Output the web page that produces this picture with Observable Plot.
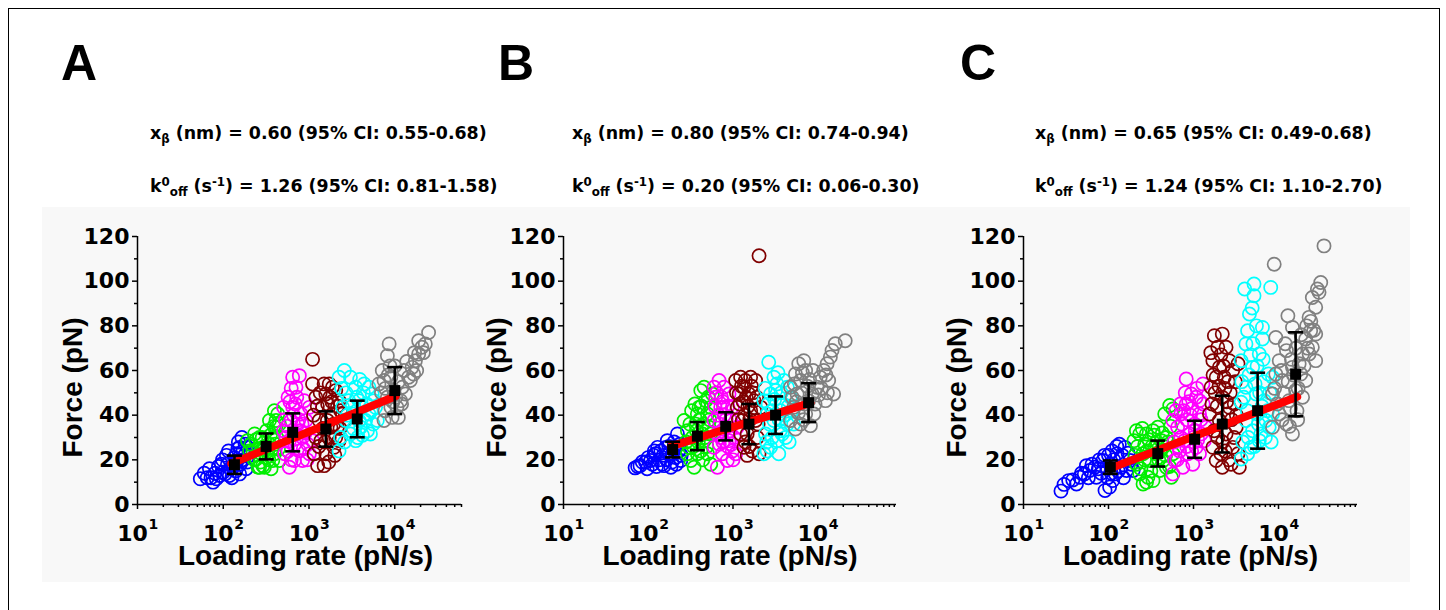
<!DOCTYPE html>
<html><head><meta charset="utf-8">
<script src="https://cdn.jsdelivr.net/npm/d3@7"></script>
<script src="https://cdn.jsdelivr.net/npm/@observablehq/plot@0.6"></script>
<style>
body{margin:0;background:#fff;width:1446px;height:610px;overflow:hidden;position:relative;font-family:"Liberation Sans",Arial,sans-serif;}
#frame{position:absolute;left:8px;top:8px;width:1430px;height:700px;border:1.5px solid #000;border-bottom:none;}
#bg{position:absolute;left:42px;top:207px;width:1368px;height:375px;background:#f8f8f8;}
.letter{position:absolute;font-weight:bold;font-size:50px;line-height:1;top:37.7px;}
.ann{position:absolute;font-family:"DejaVu Sans";font-weight:bold;font-size:17.4px;white-space:nowrap;line-height:1;}
.sub{font-size:.68em;position:relative;top:.32em;}
.sup{font-size:.68em;position:relative;top:-.55em;}
.panel{position:absolute;top:200px;}
</style></head>
<body>
<div id="frame"></div>
<div id="bg"></div>
<div class="letter" style="left:61px">A</div>
<div class="letter" style="left:498px">B</div>
<div class="letter" style="left:960px">C</div>
<div class="ann" style="left:150px;top:125px">x<span class="sub">β</span> (nm) = 0.60 (95% CI: 0.55-0.68)</div>
<div class="ann" style="left:150px;top:178px">k<span class="sup">0</span><span class="sub">off</span> (s<span class="sup">-1</span>) = 1.26 (95% CI: 0.81-1.58)</div>
<div class="ann" style="left:572px;top:125px">x<span class="sub">β</span> (nm) = 0.80 (95% CI: 0.74-0.94)</div>
<div class="ann" style="left:572px;top:178px">k<span class="sup">0</span><span class="sub">off</span> (s<span class="sup">-1</span>) = 0.20 (95% CI: 0.06-0.30)</div>
<div class="ann" style="left:1035px;top:125px">x<span class="sub">β</span> (nm) = 0.65 (95% CI: 0.49-0.68)</div>
<div class="ann" style="left:1035px;top:178px">k<span class="sup">0</span><span class="sub">off</span> (s<span class="sup">-1</span>) = 1.24 (95% CI: 1.10-2.70)</div>
<div id="pA" class="panel" style="left:40px;width:441px"></div>
<div id="pB" class="panel" style="left:481px;width:435px"></div>
<div id="pC" class="panel" style="left:941px;width:446px"></div>
<script>
// ---- shared categories / ticks ----
const groupColors = ["#0000ff", "#00ee00", "#ff00ff", "#800000", "#00ffff", "#808080"];
const yMajor = [0, 20, 40, 60, 80, 100, 120];
const yMinor = [10, 30, 50, 70, 90, 110];
const xDecades = [10, 100, 1000, 10000];
const xExponents = ["1", "2", "3", "4"];
const xMinor = [20,30,40,50,60,70,80,90,200,300,400,500,600,700,800,900,2000,3000,4000,5000,6000,7000,8000,9000,20000,30000,40000,50000,60000,70000,80000];

// ---- Panel A: [loading rate (pN/s), force (pN)] ----
const A_blue = [[54,11.5],[69,16],[76,10],[83,11.5],[95,18],[105,13.7],[109,22],[126,12],[130,16.7],[143,22.7],[155,13.7],[162,19.7],[170,24],[185,16],[192,25.6],[155,25.6],[143,19],[120,16],[72,12],[91,13],[115,24],[100,14.5],[150,28],[178,22],[165,30],
  [60,14],[88,17],[98,20],[112,18],[118,13],[135,21],[140,15],[148,25],[158,18],[172,20],[180,27],[190,19],[200,22],[65,12],[80,14]];
const A_green = [[192,28.6],[222,24],[243,20.4],[254,16.7],[277,22.7],[290,17.4],[316,21],[346,27],[361,16],[378,30],[395,22.7],[413,34.6],[432,40.5],[413,37.6],[378,19.7],[331,24],[265,30],[232,31.6],[452,19.7],[346,37.6],[302,16.7],[395,42],[452,36],[203,24],[265,16.7],
  [210,27],[240,29],[260,25],[285,30],[300,26],[320,33],[340,20],[355,31],[370,25],[390,35],[405,27],[420,30],[440,25],[230,20],[270,19]];
const A_magenta = [[505,43.5],[570,48],[645,57],[705,52.5],[771,57.7],[615,37.6],[540,30],[520,22.7],[590,16.7],[675,19.7],[771,24],[840,30],[921,37.6],[1010,43.5],[880,46.5],[570,24],[705,31.6],[840,19.7],[1010,22.7],[1100,28.6],[505,33],[645,43.5],[740,36],[590,28.6],[965,27],[805,40.5],
  [530,38],[560,35],[600,46],[620,52],[660,40],[690,45],[720,48],[760,38],[790,33],[830,36],[860,25],[900,32],[950,20],[620,20],[680,27]];
const A_darkred = [[1100,65],[1100,54],[1200,48],[1440,43.5],[1570,49.5],[1720,54],[1876,52.5],[2050,51],[2240,46.5],[2340,42],[2580,37.6],[1315,37.6],[1200,30],[1150,22.7],[1260,17.4],[1500,17.4],[1570,22.7],[1720,30],[1960,25.6],[2140,34.6],[1640,37.6],[1876,40.5],[1800,34.6],[2240,28.6],[1380,28.6],[2460,40.5],[1500,54],
  [1130,40],[1250,44],[1350,50],[1450,34],[1550,28],[1650,45],[1750,48],[1850,46],[1950,36],[2050,30],[2150,44],[2300,34],[1300,26],[1700,19],[2000,22]];
const A_cyan = [[2240,57],[2580,60],[3040,57],[3500,52.5],[3830,46.5],[4400,54],[5000,52.5],[5460,49.5],[5970,43.5],[6250,37.6],[5200,31.6],[4570,37.6],[4000,34.6],[3500,28.6],[3040,31.6],[2680,37.6],[2340,30],[2240,24],[2460,43.5],[2900,46.5],[3340,40.5],[4180,43.5],[5000,40.5],[5710,46.5],[3830,37.6],
  [2400,52],[2700,50],[2800,40],[3200,44],[3600,48],[3900,56],[4300,50],[4700,45],[5300,42],[5600,36],[3300,34],[4200,31],[2600,28],[3700,30],[4800,33]];
const A_gray = [[8600,71.9],[8200,66.6],[7150,60],[7500,55.5],[6530,54],[8200,48],[9000,43.5],[7500,37.6],[9310,39],[10600,43.5],[11700,46.5],[12200,52.5],[14500,57],[15900,61.4],[17400,64.4],[19000,67.4],[20700,70.4],[22700,71.9],[24800,77],[16600,58.4],[13300,49.5],[11000,39],[9800,51],[9000,57],[19000,73.3],[15200,55.5],
  [7000,50],[7800,52],[8400,58],[8800,62],[9500,46],[10300,48],[11000,55],[12800,60],[13800,64],[17000,68],[18000,60],[12000,45],[10000,62],[7700,42],[21500,68]];
const A_meanRate = [135, 316, 645, 1570, 3650, 10000];
const A_meanForce = [17.8, 26, 32.3, 33.8, 38.3, 51];
const A_sd = [4.1, 5.8, 8.5, 7.9, 8.2, 10.5];
const A_fit = [[124, 18.3], [10200, 48.5]];

// ---- Panel B ----
const B_blue = [[70,16.4],[80,17.4],[93,19],[107,19.7],[122,22.7],[141,24],[161,25.6],[168,28.6],[194,22.7],[221,31.6],[230,24],[242,19.7],[211,21],[185,16.7],[146,18],[129,25.6],[116,22],[177,22.7],[154,17.4],[97,16],[202,28],
  [85,19],[100,21],[112,18],[118,24],[135,20],[150,22],[165,20],[175,26],[190,19],[205,25],[215,18],[235,27],[245,22],[125,17],[75,17]];
const B_green = [[265,37.6],[290,33],[304,25.6],[318,19.7],[348,16.7],[380,22.7],[398,43.5],[417,51],[456,52.5],[477,46.5],[499,40.5],[546,43.5],[522,34.6],[436,31.6],[363,36],[332,30],[417,24],[499,22.7],[546,18],[380,40.5],[290,22.7],[456,28.6],[546,31.6],[570,49.5],
  [280,28],[310,36],[325,42],[340,26],[355,45],[370,33],[390,28],[405,38],[425,44],[445,36],[470,30],[490,26],[510,48],[530,38],[440,20]];
const B_magenta = [[598,52.5],[685,55.5],[784,52.5],[898,49.5],[625,48],[717,43.5],[598,37.6],[654,31.6],[598,25.6],[654,16.7],[750,22.7],[857,19.7],[982,24],[1030,30],[939,37.6],[820,34.6],[1076,22.7],[898,28.6],[717,30],[1125,34.6],[784,43.5],[982,43.5],
  [610,44],[640,50],[670,40],[700,36],[730,48],[760,46],[790,40],[830,38],[870,44],[920,33],[960,27],[1000,20],[690,27],[760,28],[870,26]];
const B_darkred = [[1076,55.5],[1230,57],[1400,55.5],[1614,57],[1850,55.5],[1180,49.5],[1347,52.5],[1540,49.5],[1770,46.5],[1125,43.5],[1290,37.6],[1470,31.6],[1347,25.6],[1470,22],[1690,24],[1933,30],[1850,37.6],[1614,42],[1230,31.6],[2030,22.7],[2130,43.5],[2030,111.4],
  [1100,50],[1160,38],[1200,45],[1260,53],[1320,46],[1380,40],[1430,48],[1500,44],[1580,38],[1650,53],[1720,50],[1800,42],[1900,48],[1980,36],[1400,28],[1550,26]];
const B_cyan = [[2640,63.7],[3040,57],[3390,59],[3980,55.5],[4380,52.5],[4770,48],[2316,46.5],[2530,40.5],[2420,31.6],[2316,22.7],[2774,25.6],[3323,28.6],[3800,31.6],[4380,36],[4980,42],[3630,42],[3040,37.6],[2774,49.5],[3180,51],[4170,30],[5200,36],[2530,24],[3470,22.7],
  [2400,52],[2600,45],[2700,36],[2900,42],[3100,47],[3300,54],[3500,38],[3700,50],[3900,45],[4100,40],[4500,44],[2900,30],[3600,33],[4600,28],[2500,28]];
const B_gray = [[4770,52.5],[5460,58.4],[5970,63],[6840,64.4],[7200,60],[6270,55.5],[5710,49.5],[5200,43.5],[4770,37.6],[5460,33.8],[6270,36],[7200,40.5],[7800,46.5],[8580,49.5],[9820,52.5],[10700,57],[11760,60],[12900,63],[14090,66],[14750,69],[16100,72],[21100,73.3],[13460,55.5],[15400,49.5],[12330,46.5],[9000,40.5],[8200,35.3],
  [5000,48],[5300,54],[5600,46],[5900,41],[6400,50],[6600,59],[7000,45],[7500,53],[8000,56],[8800,60],[9300,45],[10200,49],[11000,52],[12500,58],[13000,50],[6800,38]];
const B_meanRate = [194, 380, 820, 1540, 3180, 7800];
const B_meanForce = [24.6, 30.6, 35, 36, 40, 45.6];
const B_sd = [3.5, 6.3, 6.3, 9, 8.4, 8.7];
const B_fit = [[185, 26], [8200, 45.5]];

// ---- Panel C ----
const C_blue = [[27.6,6],[34,10.7],[42,9.2],[46,12.2],[52,13.7],[60,15.2],[69,16.7],[72,12.2],[86,19.7],[95,16.7],[103,7.8],[110,24],[120,13.7],[126,22.7],[141,16.7],[156,25.6],[179,19.7],[195,15.2],[134,27],[100,22],[76,16],[55,17.4],[112,10.7],[163,15.2],[91,6.3],
  [30,9],[38,11],[48,14],[58,12],[64,18],[78,20],[82,14],[90,22],[98,12],[105,18],[115,20],[130,15],[145,22],[150,12],[170,23],[185,18],[125,26],[108,14]];
const C_green = [[200,28.6],[233,31.6],[255,22.7],[279,31.6],[305,19.7],[334,33],[380,34.6],[419,28.6],[479,30],[525,44.3],[459,40.5],[233,13.7],[255,9.2],[291,12.2],[334,10.7],[400,15.2],[479,16.7],[548,12.2],[573,22.7],[213,18],[363,22.7],[267,27],[349,25.6],[439,19.7],[213,33],[573,42.8],
  [205,22],[220,26],[240,16],[250,34],[265,20],[285,24],[300,29],[315,15],[325,26],[345,31],[370,28],[390,20],[410,24],[430,32],[450,26],[470,22],[500,28],[520,17],[540,35],[280,10]];
const C_magenta = [[573,37.6],[650,34.6],[710,40.5],[821,45],[821,56.2],[940,49.5],[1075,48],[1175,46.5],[1290,54],[1175,40.5],[1030,36],[900,31.6],[785,28.6],[686,24],[600,19.7],[573,13.7],[750,16.7],[982,18],[1175,22.7],[1340,28.6],[1075,25.6],[860,22.7],[1400,34.6],[1230,31.6],[710,30],
  [590,28],[620,42],[660,26],[700,45],[730,36],[770,42],[800,50],[840,38],[880,46],[920,40],[960,43],[1000,30],[1050,33],[1120,29],[1220,38],[1300,45],[1100,52],[640,20],[830,26],[950,24]];
const C_darkred = [[1760,75.6],[2180,76.3],[2415,70.4],[1930,70.4],[1690,64.4],[2017,61.4],[2300,57],[1850,57],[2640,64.4],[2891,60],[3340,63],[1610,52.5],[2180,48],[2640,43.5],[2017,37.6],[2415,31.6],[2891,25.6],[3340,22.7],[2770,18],[2180,16.7],[1850,19.7],[1690,25.6],[1930,30],[3180,34.6],[3460,16.7],[1540,40.5],[2100,22.7],[2520,40.5],[3020,45],
  [1600,68],[1700,58],[1800,50],[1900,44],[2000,53],[2100,67],[2250,62],[2350,52],[2450,46],[2550,55],[2700,50],[2800,38],[3000,30],[3200,40],[2200,28],[1750,33],[1650,45],[2600,20],[2350,24],[3100,55]];
const C_cyan = [[4000,96.5],[5150,98.7],[5150,93.5],[8100,97.2],[4550,85.3],[4330,77.8],[6470,79.3],[6470,74.1],[5940,67.4],[4140,71.9],[3630,64.4],[4960,61.4],[7590,58.4],[8510,57],[4140,52.5],[5450,49.5],[6800,46.5],[3630,45.8],[4140,37.6],[4960,33],[6200,31.6],[7770,34.6],[8510,40.5],[4740,25.6],[5940,28.6],[3630,20.4],[4330,22.7],[7100,37.6],[5680,40.5],
  [3700,55],[3900,48],[4300,42],[4500,58],[4700,67],[5000,72],[5300,54],[5600,62],[5800,36],[6000,50],[6400,44],[6700,55],[7000,30],[7400,42],[7900,50],[8200,28],[4400,30],[5200,26],[3800,28],[6600,65],[5500,80],[4900,88]];
const C_gray = [[34300,115.8],[8900,107.6],[31400,99.4],[28700,96.5],[25000,92.7],[27400,88.3],[22900,83.8],[12900,84.5],[14600,79.3],[23900,77.8],[27400,76.3],[20900,74.1],[9300,74.8],[12400,68.9],[19200,67.4],[22900,67.4],[25000,70.4],[10200,64.4],[14600,61.4],[18300,58.4],[20900,55.5],[11100,55.5],[8500,49.5],[13300,46.5],[15900,51],[19200,48],[10200,40.5],[12400,36],[14600,31.6],[8500,34.6],[16500,42],[9300,58.4],[27400,64.4],
  [9000,52],[9700,45],[10800,60],[11500,50],[12000,72],[13000,55],[13800,43],[14200,65],[15000,58],[16000,70],[17000,52],[17500,63],[18500,76],[20000,62],[21500,80],[22000,70],[24000,82],[26000,78],[30000,95],[11000,38],[13500,35],[16800,38]];
const C_meanRate = [105, 380, 1030, 2180, 5680, 15900];
const C_meanForce = [16.7, 22.8, 29.2, 36, 42, 58.3];
const C_sd = [3, 5.8, 8.3, 12.7, 17, 18.8];
const C_fit = [[102, 16], [16600, 48.2]];

// error-bar cap: horizontal line symbol of half-width r
const capSymbol = {draw(ctx, size) { const w = Math.sqrt(size / Math.PI); ctx.moveTo(-w, 0); ctx.lineTo(w, 0); }};

function drawPanel(o) {
  const means = o.meanRate.map((r, i) => ({r, f: o.meanForce[i], lo: o.meanForce[i] - o.sd[i], hi: o.meanForce[i] + o.sd[i]}));
  const fitData = o.fit.map(([r, f]) => ({r, f}));
  const dec = xDecades.filter(d => d <= o.xmax);
  const minor = xMinor.filter(d => d <= o.xmax);
  const num = {fontFamily: "DejaVu Sans", fontWeight: "bold"};
  const ttl = {fontFamily: "Liberation Sans", fontWeight: "bold", fontSize: 28};
  return Plot.plot({
    width: o.width, height: 390,
    marginTop: 36, marginBottom: 86, marginLeft: o.marginLeft, marginRight: o.marginRight,
    style: {background: "transparent", overflow: "visible", color: "#000"},
    x: {type: "log", domain: [10, o.xmax]},
    y: {domain: [0, 120]},
    marks: [
      ...o.groups.map((g, i) => Plot.dot(g, {x: d => d[0], y: d => d[1], r: 6.6, stroke: groupColors[i], strokeWidth: 1.7, fill: "none"})),
      Plot.line(fitData, {x: "r", y: "f", stroke: "#ff0000", strokeWidth: 8}),
      Plot.ruleX(means, {x: "r", y1: "lo", y2: "hi", stroke: "#000", strokeWidth: 2.6}),
      Plot.dot(means, {x: "r", y: "lo", symbol: capSymbol, r: 7.5, stroke: "#000", strokeWidth: 2.6, fill: "none"}),
      Plot.dot(means, {x: "r", y: "hi", symbol: capSymbol, r: 7.5, stroke: "#000", strokeWidth: 2.6, fill: "none"}),
      Plot.dot(means, {x: "r", y: "f", symbol: "square", r: 6.2, fill: "#000"}),
      Plot.ruleX([10], {y1: 0, y2: 120, stroke: "#000", strokeWidth: 1.5}),
      Plot.ruleY([0], {x1: 10, x2: o.xmax, stroke: "#000", strokeWidth: 1.5}),
      Plot.axisY({ticks: yMajor, tickSize: 5, tickPadding: 3, fontSize: 22, ...num, strokeWidth: 1.5, label: null}),
      Plot.axisY({ticks: yMinor, tickSize: 3, tickFormat: () => "", strokeWidth: 1.5, label: null}),
      Plot.axisX({ticks: dec, tickSize: 5, tickFormat: () => "", strokeWidth: 1.5, label: null}),
      Plot.axisX({ticks: minor, tickSize: 3, tickFormat: () => "", strokeWidth: 1.5, label: null}),
      Plot.text(dec, {x: d => d, frameAnchor: "bottom", lineAnchor: "bottom", dy: 36, dx: -5, text: () => "10", fontSize: 22, ...num}),
      Plot.text(dec, {x: d => d, frameAnchor: "bottom", lineAnchor: "bottom", dy: 24, dx: 11, textAnchor: "start", text: (d, i) => xExponents[i], fontSize: 14, ...num}),
      Plot.text(["Loading rate (pN/s)"], {frameAnchor: "bottom", lineAnchor: "bottom", textAnchor: "middle", dy: 60, dx: o.xlabelDx, ...ttl}),
      Plot.text(["Force (pN)"], {frameAnchor: "left", textAnchor: "middle", lineAnchor: "middle", rotate: -90, dx: o.ylabelDx, dy: 17, ...ttl})
    ]
  });
}

document.getElementById("pA").append(drawPanel({
  groups: [A_blue, A_green, A_magenta, A_darkred, A_cyan, A_gray],
  meanRate: A_meanRate, meanForce: A_meanForce, sd: A_sd, fit: A_fit,
  xmax: 60000, width: 441, marginLeft: 97, marginRight: 20, xlabelDx: 6, ylabelDx: -64
}));
document.getElementById("pB").append(drawPanel({
  groups: [B_blue, B_green, B_magenta, B_darkred, B_cyan, B_gray],
  meanRate: B_meanRate, meanForce: B_meanForce, sd: B_sd, fit: B_fit,
  xmax: 85000, width: 435, marginLeft: 82, marginRight: 20, xlabelDx: 0, ylabelDx: -66
}));
document.getElementById("pC").append(drawPanel({
  groups: [C_blue, C_green, C_magenta, C_darkred, C_cyan, C_gray],
  meanRate: C_meanRate, meanForce: C_meanForce, sd: C_sd, fit: C_fit,
  xmax: 85000, width: 446, marginLeft: 82, marginRight: 30, xlabelDx: 0, ylabelDx: -66
}));
</script>
</body></html>
